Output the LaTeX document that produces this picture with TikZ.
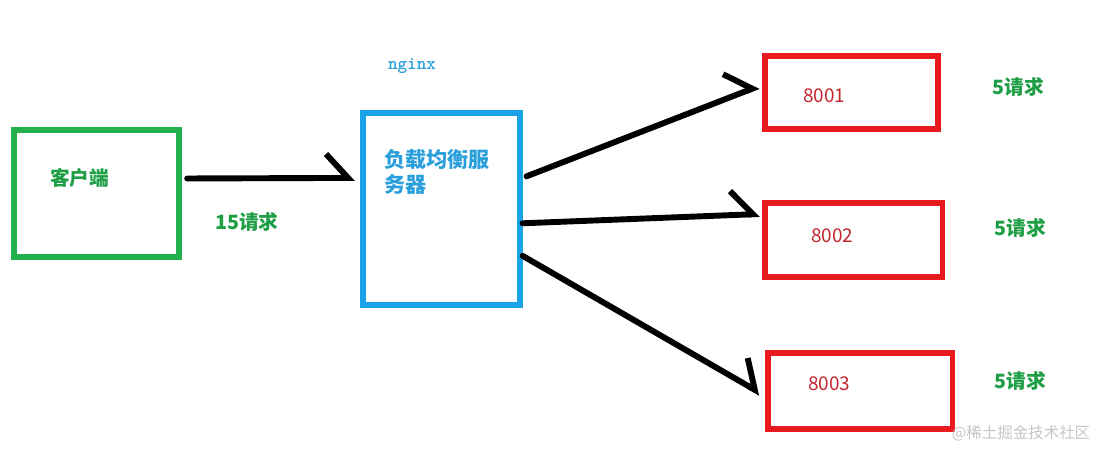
\documentclass[tikz,border=0pt]{standalone}
\usepackage{fontspec}
\newfontfamily\cjk{Noto Sans CJK SC}
\usetikzlibrary{arrows.meta,positioning}
\definecolor{clientgreen}{HTML}{22B14C}
\definecolor{lbblue}{HTML}{1AA3E8}
\definecolor{portred}{HTML}{E8191F}
\definecolor{greentext}{HTML}{1E9E45}
\definecolor{bluetext}{HTML}{2A9FDC}
\definecolor{redtext}{HTML}{C4262E}

\begin{document}
\begin{tikzpicture}[
    x=0.025cm, y=-0.025cm,
    box/.style={draw, line width=3.6pt, inner sep=0pt},
    clientbox/.style={box, draw=clientgreen, minimum width=4.125cm, minimum height=3.175cm},
    lbbox/.style={box, draw=lbblue, minimum width=3.925cm, minimum height=4.8cm},
    portbox/.style={box, draw=portred, minimum height=1.85cm},
    zh/.style={font=\cjk\bfseries\fontsize{14}{17}\selectfont, inner sep=0pt},
    count/.style={zh, text=greentext},
    port/.style={font=\cjk\fontsize{13.5}{16}\selectfont, text=redtext, inner sep=0pt, anchor=west},
    arr/.style={line width=4.2pt, line cap=round, -{Straight Barb[left, length=0.55cm, width=1.2cm]}}
]
\useasboundingbox[fill=white] (0,0) rectangle (1100,448);

\node[clientbox] (client) at (96.5,193.5) {};
\node[lbbox] (lb) at (441.5,209) {};
\node[portbox, minimum width=4.325cm, minimum height=1.825cm] (p1) at (851.5,92.5) {};
\node[portbox, minimum width=4.425cm] (p2) at (853.5,240) {};
\node[portbox, minimum width=4.6cm, minimum height=1.9cm] (p3) at (860,391) {};

% texts
\node[zh, text=greentext, anchor=west] (clienttxt) at (50,178) {客户端};
\node[font=\ttfamily\bfseries\fontsize{13}{15}\selectfont, text=bluetext] (nginxtxt) at (412,66) {nginx};
\node[zh, text=bluetext, anchor=north west, align=left, font=\cjk\bfseries\fontsize{15}{18}\selectfont] (lbtxt) at (384,149) {负载均衡服\\务器};
\node[count] (total) at (247,222) {15请求};
\node[port] (p1txt) at (803,96) {8001};
\node[port] (p2txt) at (811,236) {8002};
\node[port] (p3txt) at (808,384) {8003};
\node[count] (c1) at (1018,87) {5请求};
\node[count] (c2) at (1020,228) {5请求};
\node[count] (c3) at (1020,381) {5请求};
\node[font=\cjk\fontsize{11}{13}\selectfont, text=gray!45] (mark) at (1021,433) {@稀土掘金技术社区};

% requests
\draw[arr, shorten <=4pt, shorten >=4pt] (client.10) -- (lb.159);
\draw[arr, shorten <=3pt, shorten >=3pt] (lb.21.5) -- (p1.175.7);
\draw[arr, shorten >=2pt] (lb.-10.8) -- (p2.164.2);
\draw[arr, shorten >=4pt] (lb.-30.9) -- (p3.-177);
\end{tikzpicture}
\end{document}
